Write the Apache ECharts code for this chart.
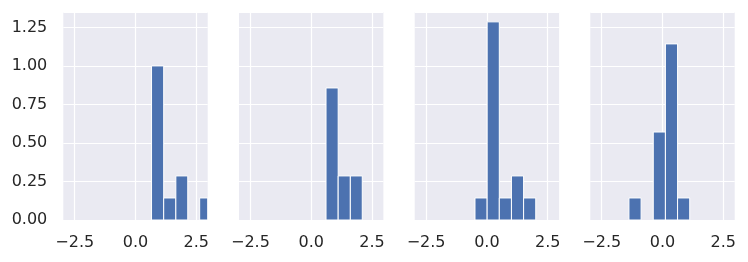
<!DOCTYPE html>
<html>
<head>
<meta charset="utf-8">
<script src="https://cdn.jsdelivr.net/npm/echarts@6/dist/echarts.min.js"></script>
<style>html,body{margin:0;padding:0;background:#fff}#c{width:748px;height:262px}</style>
</head>
<body>
<div id="c"></div>
<script>
// ---- data ----
const xTickLabels = [-2.5, 0.0, 2.5];
const yTickLabels = [0, 0.25, 0.5, 0.75, 1.0, 1.25];
const xRange = [-2.97, 2.97];
const yMax = 1.35;

const edges1 = [0.66, 1.16, 1.66, 2.15, 2.64, 3.13];
const heights1 = [1.0, 0.143, 0.286, 0, 0.143];

const edges2 = [0.61, 1.11, 1.61, 2.10];
const heights2 = [0.857, 0.286, 0.286];

const edges3 = [-0.49, 0.01, 0.51, 1.01, 1.51, 2.01];
const heights3 = [0.143, 1.286, 0.143, 0.286, 0.143];

const edges4 = [-1.38, -0.88, -0.38, 0.12, 0.62, 1.12];
const heights4 = [0.143, 0, 0.571, 1.143, 0.143];

const panels = [[edges1, heights1], [edges2, heights2], [edges3, heights3], [edges4, heights4]];

// ---- layout / style ----
const panelLefts = [63.3, 239, 414.7, 590.3];
const panelW = 144.4, panelTop = 12, panelH = 208;
const textColor = '#262626';
const fontFam = 'DejaVu Sans';

const chart = echarts.init(document.getElementById('c'), null, {renderer: 'canvas'});
const grid = [], xAxis = [], yAxis = [], series = [];
panels.forEach((p, i) => {
  const edges = p[0], heights = p[1];
  grid.push({left: panelLefts[i], top: panelTop, width: panelW, height: panelH, show: true,
    backgroundColor: '#EAEAF2', borderWidth: 0});
  xAxis.push({type: 'value', gridIndex: i, min: xRange[0], max: xRange[1],
    axisLine: {show: false}, axisTick: {show: false},
    splitLine: {show: false},
    axisLabel: {show: true, customValues: xTickLabels, margin: 15,
      color: textColor, fontSize: 16, fontFamily: fontFam,
      formatter: v => (v < 0 ? '\u2212' : '') + Math.abs(v).toFixed(1)}});
  yAxis.push({type: 'value', gridIndex: i, min: 0, max: yMax, interval: 0.25,
    axisLine: {show: false}, axisTick: {show: false},
    splitLine: {show: true, lineStyle: {color: '#ffffff', width: 1.2}},
    axisLabel: {show: i === 0, margin: 16, color: textColor, fontSize: 16,
      fontFamily: fontFam, formatter: v => v.toFixed(2),
      showMaxLabel: false}});
  // vertical grid lines at the x tick positions (drawn beneath the bars)
  series.push({type: 'line', xAxisIndex: i, yAxisIndex: i, data: [], z: 0, zlevel: 0,
    silent: true,
    markLine: {silent: true, z: 0, symbol: 'none', label: {show: false},
      animation: false,
      lineStyle: {color: '#ffffff', width: 1.2, type: 'solid'},
      data: xTickLabels.map(v => ({xAxis: v}))}});
  const data = heights.map((h, k) => [edges[k], edges[k + 1], h]);
  series.push({type: 'custom', xAxisIndex: i, yAxisIndex: i, z: 10, clip: true,
    data: data, encode: {x: [0, 1], y: 2},
    renderItem: (params, api) => {
      const x0 = api.value(0), x1 = api.value(1), h = api.value(2);
      if (h <= 0) return null;
      const a = api.coord([x0, h]);
      const b = api.coord([x1, 0]);
      const cs = params.coordSys;
      const rect = echarts.graphic.clipRectByRect(
        {x: a[0], y: a[1], width: b[0] - a[0], height: b[1] - a[1]},
        {x: cs.x, y: cs.y, width: cs.width, height: cs.height});
      if (!rect) return null;
      return {type: 'rect', shape: rect, z2: 10,
        style: {fill: '#4C72B0', stroke: '#ffffff', lineWidth: 1}};
    }});
});

chart.setOption({animation: false, grid, xAxis, yAxis, series});
</script>
</body>
</html>
